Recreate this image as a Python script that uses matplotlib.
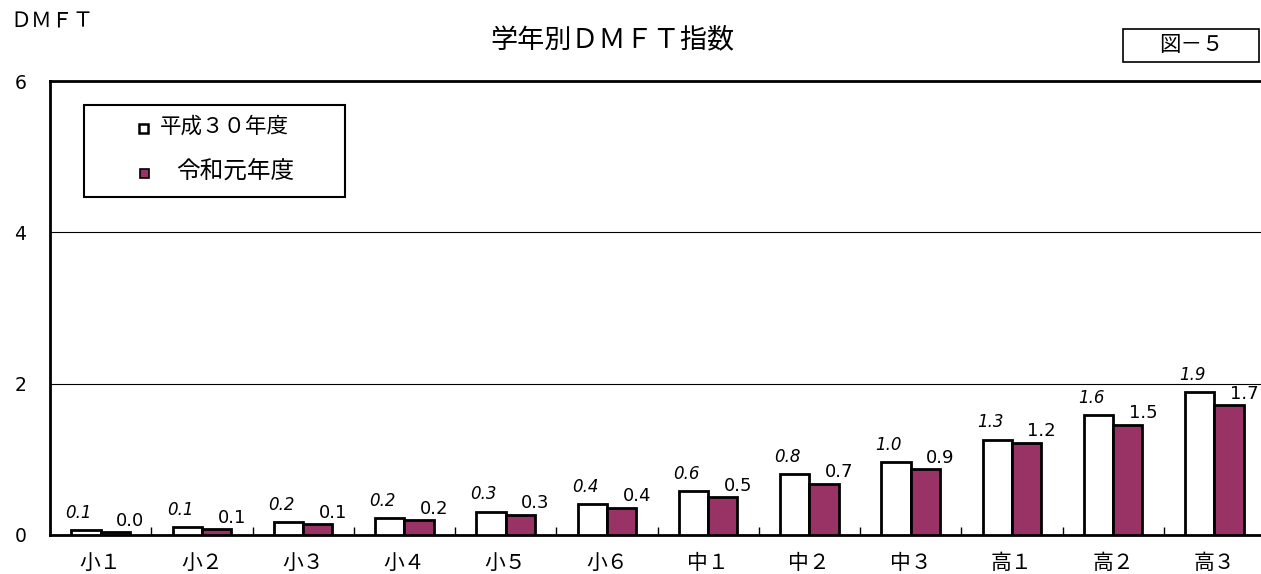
import numpy as np
import matplotlib.pyplot as plt
from matplotlib.patches import Rectangle

plt.rcParams['font.family'] = ['Noto Sans CJK JP', 'DejaVu Sans']

grades = ["小１", "小２", "小３", "小４", "小５", "小６", "中１", "中２", "中３", "高１", "高２", "高３"]
h30 = [0.06, 0.10, 0.17, 0.22, 0.31, 0.41, 0.58, 0.80, 0.96, 1.26, 1.58, 1.89]
r1 = [0.04, 0.08, 0.14, 0.20, 0.27, 0.36, 0.50, 0.68, 0.87, 1.22, 1.46, 1.72]
series_names = ["平成３０年度", "令和元年度"]
colors = ["white", "#993366"]

W, H = 1261, 574
fig = plt.figure(figsize=(W/100, H/100), dpi=100)
ax = fig.add_axes([50/W, 39/H, 1215/W, 454/H])

x = np.arange(len(grades))
w = 0.29
ax.bar(x - w/2, h30, w, color=colors[0], edgecolor="black", linewidth=2, zorder=3)
ax.bar(x + w/2, r1, w, color=colors[1], edgecolor="black", linewidth=2, zorder=3)

for i in range(len(grades)):
    ax.text(x[i] - w/2 - 0.07, h30[i] + 0.11, f"{h30[i]:.1f}", ha="center", va="bottom",
            fontsize=12, style="italic", family=["DejaVu Sans"])
    ax.text(x[i] + w/2 + 0.15, r1[i] + 0.03, f"{r1[i]:.1f}", ha="center", va="bottom",
            fontsize=13, family=["DejaVu Sans"])

ax.set_xlim(-0.5, len(grades) - 0.5)
ax.set_ylim(0, 6)
ax.set_yticks([0, 2, 4, 6])
ax.set_yticklabels(["0", "2", "4", "6"], fontsize=13.5, family=["DejaVu Sans"])
ax.tick_params(axis="y", length=0, pad=17)
ax.yaxis.grid(True, color="black", linewidth=0.8)
ax.set_axisbelow(True)

ax.set_xticks(x)
ax.set_xticklabels(grades, fontsize=15)
ax.tick_params(axis="x", length=0, pad=12)
ax.set_xticks(np.arange(0.5, len(grades) - 0.5), minor=True)
ax.tick_params(axis="x", which="minor", direction="in", length=6, width=1)

for s in ["left", "bottom", "top"]:
    ax.spines[s].set_linewidth(2)
ax.spines["right"].set_visible(False)

# legend box drawn by hand (figure pixel coords)
def fx(px):
    return px / W

def fy(py):
    return 1 - py / H

fig.add_artist(Rectangle((fx(84), fy(197)), fx(345) - fx(84), fy(105) - fy(197),
                         transform=fig.transFigure, facecolor="white", edgecolor="black", linewidth=1.5))
fig.add_artist(Rectangle((fx(139), fy(133)), 9/W, 9/H, transform=fig.transFigure,
                         facecolor=colors[0], edgecolor="black", linewidth=1.8))
fig.add_artist(Rectangle((fx(140), fy(178)), 9/W, 9/H, transform=fig.transFigure,
                         facecolor=colors[1], edgecolor="black", linewidth=1.2))
fig.text(fx(160), fy(127), series_names[0], ha="left", va="center", fontsize=15.5, style="italic")
fig.text(fx(176), fy(172), series_names[1], ha="left", va="center", fontsize=17)

fig.text(fx(612), fy(40), "学年別ＤＭＦＴ指数", ha="center", va="center", fontsize=19.5)
fig.text(fx(10), fy(22), "ＤＭＦＴ", ha="left", va="center", fontsize=15)
fig.add_artist(Rectangle((fx(1123), fy(62)), fx(1259) - fx(1123), fy(29) - fy(62),
                         transform=fig.transFigure, facecolor="white", edgecolor="black", linewidth=1.2))
fig.text(fx(1191), fy(45), "図－５", ha="center", va="center", fontsize=15.5, style="italic")

fig.savefig("out.png", dpi=100)
